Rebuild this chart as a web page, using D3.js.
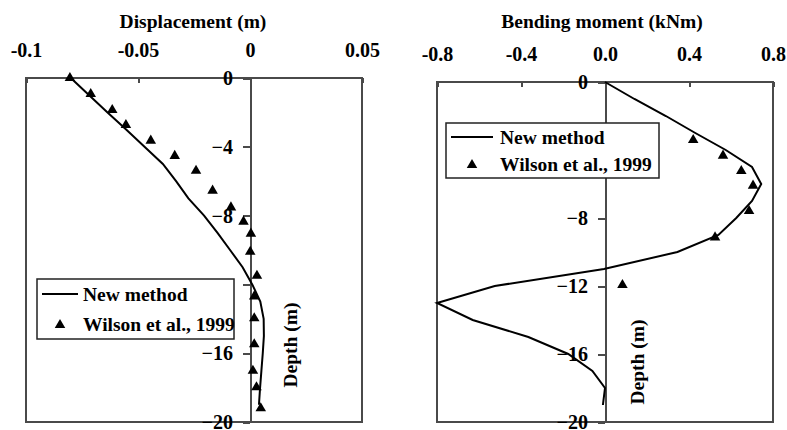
<!DOCTYPE html>
<html>
<head>
	<meta charset="utf-8">
	<title>pile response</title>
	<script src="https://cdn.jsdelivr.net/npm/d3@7"></script>
	<style type="text/css">
		body { margin: 0; background: #fff; }
		svg text {
			font-family: "Liberation Serif", "Times New Roman", serif;
			font-weight: bold;
			font-size: 19.5px;
			fill: #000;
		}
		.axis text { font-size: 20px; }
		.frame { fill: none; stroke: #4a4a4a; stroke-width: 2; }
		.axis path, .axis line { stroke: #4a4a4a; stroke-width: 2; shape-rendering: crispEdges; }
		.curve { fill: none; stroke: #000; stroke-width: 2; }
	</style>
</head>
<body>
<script type="text/javascript">
	// depth below ground (m), plotted as negative values
	var depthNew = [0, 1, 2, 3, 4, 5, 6, 7, 8, 9, 10, 11, 12, 13, 14, 15, 16, 17, 18, 19];

	// displacement (m)
	var dispNew = [-0.080, -0.0718, -0.0636, -0.0553, -0.0471, -0.0389, -0.0330, -0.0275, -0.0205, -0.0145,
		-0.0089, -0.0033, 0.0010, 0.0046, 0.0061, 0.0062, 0.0057, 0.0051, 0.0045, 0.0040];
	var dispWilsonDepth = [0, 0.93, 1.86, 2.73, 3.64, 4.53, 5.39, 6.55, 7.52, 8.35, 9.05, 10.1, 11.5, 12.7, 13.97, 15.48, 17.02, 17.98, 19.2];
	var dispWilson = [-0.0804, -0.0711, -0.0615, -0.0554, -0.0443, -0.0336, -0.0241, -0.0167, -0.0085, -0.0029,
		0.0004, 0.0001, 0.0031, 0.0019, 0.0019, 0.0019, 0.0013, 0.0029, 0.0048];

	// bending moment (kNm)
	var momentNew = [0, 0.14, 0.29, 0.43, 0.575, 0.70, 0.744, 0.70, 0.625, 0.54,
		0.345, -0.005, -0.525, -0.80, -0.63, -0.365, -0.175, -0.06, 0.0, -0.01];
	var momentWilsonDepth = [3.41, 4.33, 5.24, 6.1, 7.59, 9.14, 11.94];
	var momentWilson = [0.42, 0.562, 0.649, 0.705, 0.686, 0.524, 0.083];

	var depthTicks = [0, -4, -8, -12, -16, -20];
	var dispTicks = [-0.1, -0.05, 0, 0.05];
	var dispTickLabels = ["-0.1", "-0.05", "0", "0.05"];
	var momentTicks = [-0.8, -0.4, 0, 0.4, 0.8];
	var momentTickLabels = ["-0.8", "-0.4", "0.0", "0.4", "0.8"];

	var legendNames = ["New method", "Wilson et al., 1999"];

	var svg = d3.select("body").append("svg")
		.attr("width", 787)
		.attr("height", 430);

	var tri = d3.symbol().type(d3.symbolTriangle).size(48);

	function panel(cfg) {
		var x = d3.scaleLinear().domain(cfg.xDomain).range([cfg.left, cfg.right]);
		var y = d3.scaleLinear().domain([0, -20]).range([cfg.top, cfg.bottom]);
		var g = svg.append("g");

		// top axis, ticks pointing into the plot
		var xAxis = d3.axisTop(x)
			.tickValues(cfg.xTicks)
			.tickFormat(function(d, i){ return cfg.xLabels[i]; })
			.tickSizeInner(-5)
			.tickSizeOuter(0)
			.tickPadding(21);
		var gx = g.append("g")
			.attr("class", "axis")
			.attr("transform", "translate(0," + cfg.top + ")")
			.call(xAxis);
		gx.select(".domain").remove();
		gx.selectAll("text").attr("fill", "#000");

		// box
		g.append("rect")
			.attr("class", "frame")
			.attr("x", cfg.left)
			.attr("y", cfg.top)
			.attr("width", cfg.right - cfg.left)
			.attr("height", cfg.bottom - cfg.top);

		// depth axis through x = 0
		var yAxis = d3.axisLeft(y)
			.tickValues(depthTicks)
			.tickFormat(d3.format("d"))
			.tickSizeInner(7)
			.tickSizeOuter(0)
			.tickPadding(10);
		var gy = g.append("g")
			.attr("class", "axis")
			.attr("transform", "translate(" + x(0) + ",0)")
			.call(yAxis);
		gy.selectAll("text").attr("fill", "#000");
		// the label behind the legend box is not visible in the original
		gy.selectAll(".tick").filter(function(d){ return d == cfg.hiddenTick; })
			.select("text").remove();

		// titles
		g.append("text")
			.attr("x", cfg.titleX)
			.attr("y", 28)
			.attr("text-anchor", "middle")
			.text(cfg.title);
		g.append("text")
			.attr("transform", "translate(" + cfg.depthX + "," + cfg.depthY + ") rotate(-90)")
			.attr("text-anchor", "middle")
			.attr("dy", "0.35em")
			.text("Depth (m)");

		// new method curve
		var line = d3.line()
			.x(function(d){ return x(d[0]); })
			.y(function(d){ return y(-d[1]); });
		g.append("path")
			.attr("class", "curve")
			.attr("d", line(d3.zip(cfg.lineX, depthNew)));

		// Wilson et al. points
		g.selectAll(".pt")
			.data(d3.zip(cfg.ptX, cfg.ptDepth))
			.enter()
			.append("path")
			.attr("class", "pt")
			.attr("d", tri)
			.attr("transform", function(d){ return "translate(" + x(d[0]) + "," + y(-d[1]) + ")"; });

		// legend
		var L = cfg.legend;
		var lg = g.append("g");
		lg.append("rect")
			.attr("x", L.x).attr("y", L.y)
			.attr("width", L.w).attr("height", L.h)
			.attr("fill", "#fff")
			.attr("stroke", "#222")
			.attr("stroke-width", 1.5);
		lg.append("line")
			.attr("x1", L.x + 5).attr("x2", L.x + 5 + L.lineLen)
			.attr("y1", L.y1).attr("y2", L.y1)
			.attr("stroke", "#000").attr("stroke-width", 2);
		lg.append("path")
			.attr("d", tri)
			.attr("transform", "translate(" + (L.x + 5 + L.lineLen / 2) + "," + L.y2 + ")");
		lg.selectAll(".ltext")
			.data(legendNames)
			.enter()
			.append("text")
			.attr("x", L.tx)
			.attr("y", function(d, i){ return i == 0 ? L.y1 + 7 : L.y2 + 6; })
			.text(function(d){ return d; });
	}

	panel({
		left: 26, right: 362, top: 78, bottom: 422,
		xDomain: [-0.1, 0.05], xTicks: dispTicks, xLabels: dispTickLabels,
		title: "Displacement (m)", titleX: 193,
		depthX: 290, depthY: 345, hiddenTick: -12,
		lineX: dispNew, ptX: dispWilson, ptDepth: dispWilsonDepth,
		legend: {x: 37, y: 279, w: 197, h: 60, lineLen: 36, y1: 294, y2: 325, tx: 83}
	});

	panel({
		left: 437, right: 773, top: 82, bottom: 422,
		xDomain: [-0.8, 0.8], xTicks: momentTicks, xLabels: momentTickLabels,
		title: "Bending moment (kNm)", titleX: 602,
		depthX: 637, depthY: 362, hiddenTick: -4,
		lineX: momentNew, ptX: momentWilson, ptDepth: momentWilsonDepth,
		legend: {x: 446, y: 123, w: 213, h: 55, lineLen: 42, y1: 137, y2: 165, tx: 500}
	});
</script>
</body>
</html>
